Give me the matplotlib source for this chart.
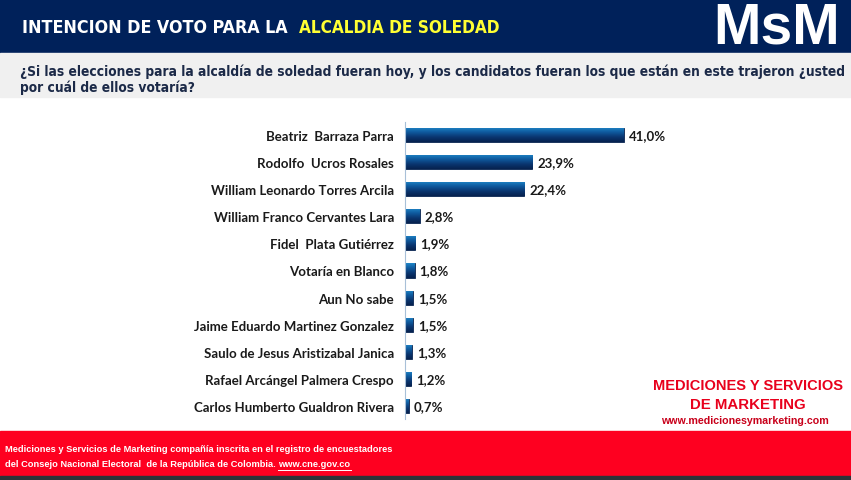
import matplotlib
matplotlib.use("Agg")
import matplotlib.pyplot as plt
import numpy as np
from matplotlib.patches import Rectangle

candidatos = ["Beatriz  Barraza Parra", "Rodolfo  Ucros Rosales",
              "William Leonardo Torres Arcila", "William Franco Cervantes Lara",
              "Fidel  Plata Gutiérrez", "Votaría en Blanco", "Aun No sabe",
              "Jaime Eduardo Martinez Gonzalez", "Saulo de Jesus Aristizabal Janica",
              "Rafael Arcángel Palmera Crespo", "Carlos Humberto Gualdron Rivera"]
valores = [41.0, 23.9, 22.4, 2.8, 1.9, 1.8, 1.5, 1.5, 1.3, 1.2, 0.7]
etiquetas = [f"{v:.1f}%".replace(".", ",") for v in valores]

W, H = 851, 481
fig = plt.figure(figsize=(W / 100, H / 100), dpi=100)
fig.patch.set_facecolor("white")

bg = fig.add_axes([0, 0, 1, 1])
bg.set_xlim(0, W)
bg.set_ylim(H, 0)
bg.axis("off")
bg.add_patch(Rectangle((0, 0), W, 54, color="#00215a"))
bg.add_patch(Rectangle((0, 54), W, 44, color="#f0f0f0"))
bg.add_patch(Rectangle((0, 432), W, 45, color="#fe0020"))
bg.add_patch(Rectangle((0, 477), W, 4, color="#2e3338"))


def fit(x, y, s, width, size=10, **kw):
    # ajusta el tamano de letra para que el texto ocupe 'width' pixeles
    t = bg.text(x, y, s, fontsize=size, va="center", **kw)
    fig.canvas.draw()
    w = t.get_window_extent().width
    t.set_fontsize(size * width / w)
    fig.canvas.draw()
    return t


head = dict(color="white", fontweight="bold", family="DejaVu Sans", fontstretch="condensed")
t1 = fit(22, 28, "INTENCION DE VOTO PARA LA  ", 275, **head)
bb = t1.get_window_extent()
fit(22 + bb.width, 28, "ALCALDIA DE SOLEDAD", 200, **dict(head, color="#ffff33"))
bg.text(777, 29, "MsM", color="white", fontsize=41, fontweight="bold",
        family="Liberation Sans", ha="center", va="center")

q = dict(color="#1c2a48", fontweight="bold", family="DejaVu Sans", fontstretch="condensed")
tq = fit(20, 72, "¿Si las elecciones para la alcaldía de soledad fueran hoy, y los candidatos "
         "fueran los que están en este trajeron ¿usted", 826, **q)
bg.text(20, 88, "por cuál de ellos votaría?", fontsize=tq.get_fontsize(), va="center", **q)

red = dict(color="#e8001c", fontweight="bold", family="Liberation Sans", ha="center")
fit(748, 386, "MEDICIONES Y SERVICIOS", 189, **red)
fit(748, 405, "DE MARKETING", 115, **red)
fit(745, 421, "www.medicionesymarketing.com", 168, **dict(red, color="#c8001a"))

foot = dict(color="white", fontweight="bold", family="Liberation Sans")
tf = fit(5, 450, "Mediciones y Servicios de Marketing compañía inscrita en el registro de encuestadores",
         387, **foot)
fs = tf.get_fontsize()
t2 = bg.text(5, 465, "del Consejo Nacional Electoral  de la República de Colombia. ",
             fontsize=fs, va="center", **foot)
fig.canvas.draw()
x2 = 5 + t2.get_window_extent().width
t3 = bg.text(x2, 465, "www.cne.gov.co", fontsize=fs, va="center", **foot)
fig.canvas.draw()
bg.plot([x2, x2 + t3.get_window_extent().width], [471, 471], color="white", lw=0.7)

# grafico de barras
ax = fig.add_axes([405 / W, 1 - 420.5 / H, 240 / W, 298 / H])
ax.set_facecolor("none")
y = np.arange(len(valores))
bars = ax.barh(y, valores, height=0.52, color="#0d3c78", edgecolor="#0a2550", lw=0.6)
grad = np.linspace(0, 1, 100).reshape(-1, 1)
cmap = matplotlib.colors.LinearSegmentedColormap.from_list(
    "g", ["#1f86c8", "#0f5a9e", "#0a3670", "#06224f"])
for b in bars:
    x0, y0 = b.get_x(), b.get_y()
    im = ax.imshow(grad, cmap=cmap, aspect="auto", origin="upper",
                   extent=[x0, x0 + b.get_width(), y0 + b.get_height(), y0], zorder=2)
    im.set_clip_path(b)
ax.set_xlim(0, 45)
ax.set_ylim(len(valores) - 0.5, -0.5)
for yi, v, lab in zip(y, valores, etiquetas):
    ax.text(v + 0.9, yi, lab, va="center", ha="left", fontsize=9.5, fontweight="bold",
            family="Lato", color="#1a1a1a")
ax.set_yticks(y)
ax.set_yticklabels(candidatos, fontsize=9.5, fontweight="bold", family="Lato", color="#1a1a1a")
ax.tick_params(axis="y", length=0, pad=8)
ax.set_xticks([])
for s in ["top", "right", "bottom"]:
    ax.spines[s].set_visible(False)
ax.spines["left"].set_color("#a8c0d8")
ax.spines["left"].set_linewidth(0.8)

fig.savefig("out.png", dpi=100)
